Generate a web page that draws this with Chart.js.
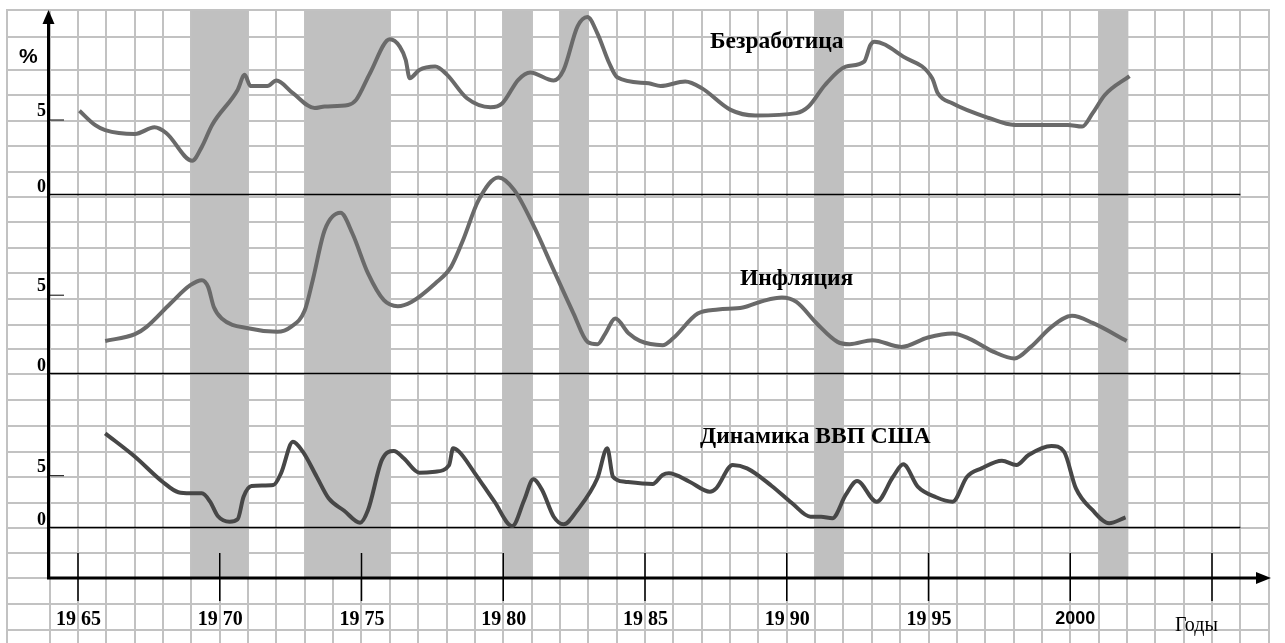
<!DOCTYPE html>
<html>
<head>
<meta charset="utf-8">
<script src="https://cdn.jsdelivr.net/npm/chart.js@4.4.0/dist/chart.umd.min.js"></script>
<style>
    body { margin: 0; background: #fff; overflow: hidden; }
    canvas { display: block; }
</style>
</head>
<body>
<canvas id="chart" width="1285" height="643"></canvas>
<script>
// данные (годы / проценты)
var unemploymentYears = [1965.05, 1965.61, 1965.96, 1967.01, 1967.70, 1968.12, 1969.03, 1969.37, 1969.73, 1970.63, 1970.88, 1971.08, 1971.68, 1972.00, 1972.58, 1973.35, 1973.70, 1974.53, 1974.81, 1975.30, 1976.00, 1976.35, 1976.56, 1976.70, 1977.04, 1977.60, 1978.02, 1978.72, 1979.55, 1979.97, 1980.53, 1980.95, 1981.78, 1982.13, 1982.62, 1982.97, 1983.32, 1983.74, 1984.02, 1985.13, 1985.55, 1986.42, 1987.00, 1988.02, 1988.89, 1990.34, 1990.77, 1991.35, 1992.08, 1992.73, 1992.95, 1993.09, 1994.11, 1995.13, 1995.33, 1995.84, 1997.15, 1998.03, 1999.91, 2000.42, 2000.79, 2001.22, 2002.09];
var unemploymentValues = [5.62, 4.65, 4.32, 4.06, 4.51, 4.11, 2.27, 3.21, 4.67, 7.02, 8.03, 7.29, 7.29, 7.65, 6.80, 5.80, 5.91, 6.01, 6.35, 8.14, 10.42, 9.93, 9.03, 7.80, 8.36, 8.59, 8.03, 6.46, 5.86, 6.13, 7.70, 8.19, 7.65, 8.36, 11.28, 11.91, 10.82, 8.81, 7.87, 7.46, 7.28, 7.58, 7.14, 5.68, 5.30, 5.46, 5.90, 7.35, 8.58, 8.92, 10.03, 10.26, 9.25, 7.80, 6.79, 6.12, 5.12, 4.67, 4.67, 4.56, 5.46, 6.68, 7.95];

var inflationYears = [1965.96, 1967.01, 1967.42, 1968.26, 1968.96, 1969.37, 1969.59, 1969.79, 1970.07, 1971.05, 1972.03, 1972.51, 1973.00, 1973.28, 1973.70, 1974.26, 1974.68, 1975.23, 1975.79, 1976.28, 1976.76, 1977.60, 1978.16, 1978.58, 1979.13, 1979.83, 1980.39, 1981.09, 1981.78, 1982.48, 1982.97, 1983.32, 1983.60, 1983.95, 1984.43, 1984.82, 1985.62, 1985.98, 1986.86, 1987.58, 1988.45, 1989.18, 1989.83, 1990.34, 1991.06, 1991.79, 1992.22, 1993.02, 1994.04, 1994.98, 1995.85, 1996.43, 1997.30, 1998.03, 1998.61, 1999.34, 2000.06, 2000.79, 2001.99];
var inflationValues = [2.08, 2.51, 2.98, 4.47, 5.64, 5.96, 5.53, 4.25, 3.51, 2.87, 2.66, 2.98, 4.04, 5.96, 9.15, 10.26, 8.94, 6.39, 4.68, 4.30, 4.57, 5.75, 6.81, 8.51, 11.07, 12.52, 11.71, 9.36, 6.60, 3.83, 2.02, 1.87, 2.55, 3.51, 2.55, 2.08, 1.81, 2.23, 3.83, 4.09, 4.21, 4.64, 4.85, 4.57, 3.19, 2.02, 1.87, 2.13, 1.70, 2.30, 2.55, 2.23, 1.38, 0.96, 1.70, 2.98, 3.68, 3.23, 2.08];

var gdpYears = [1965.96, 1967.01, 1967.98, 1968.54, 1968.96, 1969.37, 1969.66, 1969.93, 1970.35, 1970.63, 1970.84, 1971.12, 1971.89, 1972.16, 1972.58, 1972.93, 1973.42, 1973.84, 1974.39, 1974.95, 1975.23, 1975.72, 1976.14, 1976.49, 1977.04, 1977.60, 1978.09, 1978.23, 1978.44, 1979.00, 1979.69, 1980.32, 1980.74, 1981.06, 1981.37, 1981.78, 1982.13, 1982.62, 1983.32, 1983.67, 1983.87, 1984.29, 1985.27, 1985.62, 1985.84, 1986.57, 1987.29, 1987.51, 1988.09, 1988.60, 1989.47, 1990.19, 1990.84, 1991.21, 1991.61, 1992.08, 1992.48, 1993.17, 1993.75, 1994.11, 1994.62, 1995.27, 1995.85, 1996.36, 1996.87, 1997.59, 1998.10, 1998.53, 1999.34, 1999.78, 2000.20, 2000.78, 2001.37, 2001.95];
var gdpValues = [9.09, 6.83, 4.42, 3.40, 3.30, 3.30, 2.49, 1.11, 0.56, 0.79, 2.97, 4.01, 4.10, 5.23, 8.28, 7.32, 4.90, 2.82, 1.62, 0.46, 1.69, 6.52, 7.38, 6.68, 5.29, 5.39, 6.03, 7.64, 7.32, 5.23, 2.49, 0.14, 2.65, 4.65, 3.62, 1.04, 0.31, 1.69, 4.75, 7.64, 4.90, 4.42, 4.20, 5.07, 5.23, 4.42, 3.46, 3.78, 6.03, 5.71, 4.01, 2.34, 1.04, 1.04, 0.89, 3.14, 4.49, 2.49, 4.90, 6.10, 3.94, 2.92, 2.49, 4.90, 5.71, 6.45, 6.03, 7.00, 7.87, 7.32, 3.78, 1.69, 0.41, 0.98];

// спады (серые полосы)
var recessionStarts = [1969, 1973, 1980, 1982, 1991, 2001];
var recessionEnds = [1971, 1976, 1981, 1983, 1992, 2002.05];

// подписи оси X
var tickYears = [1965, 1970, 1975, 1980, 1985, 1990, 1995, 2000, 2005];
var tickLabels = ['19 65', '19 70', '19 75', '19 80', '19 85', '19 90', '19 95', '2000', ''];

// разметка листа (пиксели)
var W = 1285, H = 643;
var pxPerYear = 28.35;
var year0Px = 78;
var gridRows = [10, 37, 70, 95, 121, 146, 172, 197, 222, 248, 273, 299, 325, 349, 374, 400, 426, 452, 477, 503, 528, 553, 578, 604, 630];

function yRange(zeroPx, pxPerUnit) {
    return { min: -(H - zeroPx) / pxPerUnit, max: zeroPx / pxPerUnit };
}
var rU = yRange(194.5, 14.9);
var rI = yRange(373.5, 15.66);
var rG = yRange(527.5, 10.36);

function points(xs, ys) {
    var out = [];
    for (var i = 0; i < xs.length; i++) {
        out.push({ x: xs[i], y: ys[i] });
    }
    return out;
}

var paper = {
    id: 'paper',
    beforeDraw: function (chart) {
        var c = chart.ctx;
        c.save();
        c.fillStyle = '#fff';
        c.fillRect(0, 0, W, H);
        c.restore();
    },
    beforeDatasetsDraw: function (chart) {
        var c = chart.ctx;
        var sx = chart.scales.x;
        var axisY = 578;
        var axisX = 48.5;
        c.save();

        // клетка
        c.strokeStyle = '#c2c2c2';
        c.lineWidth = 2;
        var gx = [1962.5];
        for (var y = 1964; y <= 2007; y++) gx.push(y);
        gx.forEach(function (yr) {
            var px = Math.round(sx.getPixelForValue(yr));
            c.beginPath();
            c.moveTo(px, 10);
            c.lineTo(px, H);
            c.stroke();
        });
        var right = Math.round(sx.getPixelForValue(2007));
        gridRows.forEach(function (py) {
            c.beginPath();
            c.moveTo(6, py);
            c.lineTo(right + 1, py);
            c.stroke();
        });

        // полосы спадов
        c.fillStyle = '#c0c0c0';
        for (var i = 0; i < recessionStarts.length; i++) {
            var x1 = sx.getPixelForValue(recessionStarts[i]);
            var x2 = sx.getPixelForValue(recessionEnds[i]);
            c.fillRect(x1, 11, x2 - x1, axisY - 11);
        }

        // нули и деления "5"
        var zeroEnd = sx.getPixelForValue(2006);
        c.strokeStyle = '#000';
        c.fillStyle = '#000';
        ['yU', 'yI', 'yG'].forEach(function (id) {
            var s = chart.scales[id];
            var z = s.getPixelForValue(0);
            var f = s.getPixelForValue(5);
            c.lineWidth = 1.5;
            c.beginPath();
            c.moveTo(axisX, z);
            c.lineTo(zeroEnd, z);
            c.stroke();
            c.lineWidth = 1;
            c.beginPath();
            c.moveTo(axisX, f);
            c.lineTo(64, f);
            c.stroke();
            c.font = 'bold 18px "Liberation Serif"';
            c.textAlign = 'right';
            c.textBaseline = 'alphabetic';
            c.fillText('5', 46, f - 4);
            c.fillText('0', 46, z - 3);
        });

        // оси
        c.lineWidth = 3;
        c.beginPath();
        c.moveTo(axisX, 22);
        c.lineTo(axisX, axisY + 1.5);
        c.moveTo(axisX - 1.5, axisY);
        c.lineTo(1257, axisY);
        c.stroke();
        c.beginPath();
        c.moveTo(axisX, 10);
        c.lineTo(axisX - 6, 24);
        c.lineTo(axisX + 6, 24);
        c.closePath();
        c.fill();
        c.beginPath();
        c.moveTo(1271, axisY);
        c.lineTo(1256, axisY - 6);
        c.lineTo(1256, axisY + 6);
        c.closePath();
        c.fill();

        // деления и подписи годов
        c.lineWidth = 1.5;
        for (var k = 0; k < tickYears.length; k++) {
            var tx = sx.getPixelForValue(tickYears[k]);
            c.beginPath();
            c.moveTo(tx, 553);
            c.lineTo(tx, 601);
            c.stroke();
            var lab = tickLabels[k];
            if (lab.indexOf(' ') > 0) {
                var parts = lab.split(' ');
                c.font = 'bold 20px "Liberation Serif"';
                c.textAlign = 'right';
                c.fillText(parts[0], tx - 2, 625);
                c.textAlign = 'left';
                c.fillText(parts[1], tx + 3, 625);
            } else if (lab) {
                c.font = 'bold 18px "Liberation Sans"';
                c.textAlign = 'center';
                c.fillText(lab, tx + 5, 624);
            }
        }
        c.font = '20px "Liberation Serif"';
        c.textAlign = 'left';
        c.fillText('Годы', 1175, 631);

        c.font = 'bold 21px "Liberation Sans"';
        c.fillText('%', 19, 63);
        c.restore();
    },
    afterDatasetsDraw: function (chart) {
        var c = chart.ctx;
        c.save();
        c.fillStyle = '#000';
        c.font = 'bold 23.5px "Liberation Serif"';
        c.textAlign = 'left';
        c.textBaseline = 'alphabetic';
        c.fillText('Безработица', 710, 48);
        c.fillText('Инфляция', 740, 285);
        c.fillText('Динамика ВВП США', 700, 443);
        c.restore();
    }
};

var ctx = document.getElementById('chart').getContext('2d');
var myChart = new Chart(ctx, {
    type: 'line',
    data: {
        datasets: [{
            label: 'Безработица',
            data: points(unemploymentYears, unemploymentValues),
            yAxisID: 'yU',
            borderColor: '#6a6a6a',
            borderWidth: 4,
            pointRadius: 0,
            cubicInterpolationMode: 'monotone',
            fill: false
        }, {
            label: 'Инфляция',
            data: points(inflationYears, inflationValues),
            yAxisID: 'yI',
            borderColor: '#6a6a6a',
            borderWidth: 4,
            pointRadius: 0,
            cubicInterpolationMode: 'monotone',
            fill: false
        }, {
            label: 'Динамика ВВП США',
            data: points(gdpYears, gdpValues),
            yAxisID: 'yG',
            borderColor: '#474747',
            borderWidth: 4,
            pointRadius: 0,
            cubicInterpolationMode: 'monotone',
            fill: false
        }]
    },
    options: {
        responsive: false,
        animation: false,
        layout: { padding: 0 },
        plugins: {
            legend: { display: false },
            tooltip: { enabled: false }
        },
        scales: {
            x: { type: 'linear', display: false, bounds: 'data', min: 1965 - year0Px / pxPerYear, max: 1965 + (W - year0Px) / pxPerYear },
            yU: { type: 'linear', display: false, bounds: 'data', min: rU.min, max: rU.max },
            yI: { type: 'linear', display: false, bounds: 'data', min: rI.min, max: rI.max },
            yG: { type: 'linear', display: false, bounds: 'data', min: rG.min, max: rG.max }
        }
    },
    plugins: [paper]
});
</script>
</body>
</html>
